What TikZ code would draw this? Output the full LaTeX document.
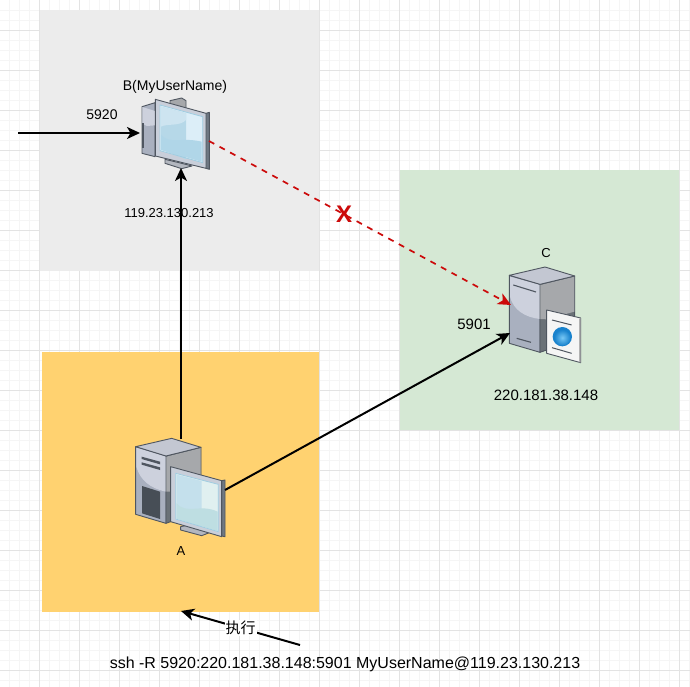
\documentclass[tikz,border=0pt]{standalone}
\usepackage{fontspec}
\setmainfont{Liberation Sans}
\newfontfamily\cjkfont{Noto Sans CJK SC}
\usetikzlibrary{arrows.meta}
\newcommand{\fs}[1]{\fontsize{#1}{#1}\selectfont}
\definecolor{edgeC}{HTML}{4F5660}
\definecolor{leftL}{HTML}{CDD1DD}
\definecolor{leftD}{HTML}{A9B0BF}
\definecolor{rightL}{HTML}{A6A8AB}
\definecolor{rightD}{HTML}{6A7177}
\definecolor{topC}{HTML}{C3C7D2}
\definecolor{frameC}{HTML}{C9CFDA}
\definecolor{stripC}{HTML}{6E7883}
\definecolor{redC}{HTML}{CC0A0A}
\tikzset{
  zone/.style={draw=none},
  lbl/.style={inner sep=0pt,text=black},
  conn/.style={draw=black,line width=2pt,-{Stealth[length=13pt,width=12pt,inset=3.5pt]}},
  redconn/.style={draw=redC,line width=1.7pt,dash pattern=on 6pt off 6pt,-{Stealth[length=13pt,width=12pt,inset=3.5pt,fill=redC]}},
  icon/.style={inner sep=0pt,draw=none,fill=none},
  wire/.style={edgeC,line width=0.9pt,line join=round},
}
\begin{document}
\begin{tikzpicture}[x=1pt,y=-1pt]
\useasboundingbox (0,0) rectangle (690,687);
\fill[white] (0,0) rectangle (690,687);
% grid
\foreach \i in {0,...,68} {\draw[color=black!4,line width=0.7pt] ({9.5+10*\i},0) -- ({9.5+10*\i},687);}
\foreach \i in {0,...,68} {\draw[color=black!4,line width=0.7pt] (0,{10.5+10*\i}) -- (690,{10.5+10*\i});}
\foreach \i in {0,...,17} {\draw[color=black!11,line width=0.7pt] ({39.5+40*\i},0) -- ({39.5+40*\i},687);}
\foreach \i in {0,...,16} {\draw[color=black!11,line width=0.7pt] (0,{30.5+40*\i}) -- (690,{30.5+40*\i});}
% zones
\fill[zone,fill={rgb,255:red,236;green,236;blue,236}] (40,10) rectangle (319,271);
\fill[zone,fill={rgb,255:red,255;green,210;blue,112}] (42,352) rectangle (319,612);
\fill[zone,fill={rgb,255:red,213;green,232;blue,212}] (400,170) rectangle (679,430);
% icon B
\begin{scope}[shift={(100,60)},scale=1/3]
 \filldraw[wire,fill=leftD] (126,140) -- (165,128) -- (165,290) -- (126,280) -- cycle;
 \fill[leftL] (127,141) -- (165,153) -- (165,196) -- (140,198) -- (127,190) -- cycle;
 \fill[edgeC] (126,190) rectangle (131,265);
 \filldraw[wire,fill=rightL] (210,122) -- (245,114) -- (258,122) -- (258,145) -- (210,135) -- cycle;
 \filldraw[wire,fill=frameC!70!gray] (195,298) -- (245,310) -- (276,318) -- (245,326) -- (195,310) -- cycle;
 \filldraw[wire,fill=stripC] (318,160) -- (328,157) -- (328,328) -- (318,325) -- cycle;
 \filldraw[wire,fill=frameC] (166,118) -- (318,160) -- (318,325) -- (166,288) -- cycle;
 \fill[color={rgb,255:red,220;green,238;blue,248}] (180,135) -- (308,170) -- (308,308) -- (180,272) -- cycle;
 \fill[color={rgb,255:red,182;green,216;blue,232}] (183,140) -- (258,160) -- (258,298) -- (183,268) -- cycle;
 \fill[color={rgb,255:red,205;green,228;blue,240}] (183,140) -- (258,160) -- (258,180) .. controls (240,200) and (200,190) .. (183,200) -- cycle;
 \fill[color={rgb,255:red,176;green,214;blue,232}] (183,225) .. controls (215,255) and (240,230) .. (305,245) -- (305,305) -- (183,270) -- cycle;
 \draw[color={rgb,255:red,160;green,205;blue,225},line width=0.8pt] (180,135) -- (308,170) -- (308,308) -- (180,272) -- cycle;
\end{scope}
% icon C
\begin{scope}[shift={(480,240)},scale=1/3]
 \filldraw[wire,fill=leftD] (88,106) -- (180,133) -- (180,337) -- (88,310) -- cycle;
 \fill[leftL] (90,110) -- (180,135) -- (180,237) .. controls (135,232) and (100,210) .. (90,170) -- cycle;
 \filldraw[wire,fill=rightD] (180,133) -- (284,108) -- (284,228) -- (200,330) -- (180,337) -- cycle;
 \fill[rightL] (181,135) -- (283,110) -- (283,215) -- (200,238) -- (181,237) -- cycle;
 \filldraw[wire,fill=topC] (88,106) -- (195,81) -- (284,108) -- (180,133) -- cycle;
 \draw[edgeC,line width=1.1pt] (100,135) -- (168,156);
 \draw[edgeC,line width=1.1pt] (110,295) -- (153,307);
 \filldraw[wire,fill=white!92!gray] (200,210) -- (302,234) -- (302,368) -- (200,340) -- cycle;
 \fill[color=gray!60] (297,236) -- (302,234) -- (302,368) -- (297,366) -- cycle;
 \draw[edgeC,line width=1pt] (216,240) -- (275,255);
 \draw[edgeC,line width=1pt] (216,323) -- (275,340);
 \fill[color={rgb,255:red,25;green,130;blue,205}] (247,290) circle (29);
 \shade[inner color={rgb,255:red,120;green,200;blue,245},outer color={rgb,255:red,25;green,130;blue,205}] (247,293) circle (24);
\end{scope}
% icon A
\begin{scope}[shift={(120,420)},scale=1/3]
 \filldraw[wire,fill=leftD] (47,80) -- (138,108) -- (138,310) -- (47,283) -- cycle;
 \fill[leftL] (49,83) -- (138,110) -- (138,215) .. controls (90,205) and (60,180) .. (49,140) -- cycle;
 \filldraw[wire,fill=rightD] (138,108) -- (243,82) -- (243,180) -- (152,305) -- (138,310) -- cycle;
 \fill[rightL] (139,110) -- (242,84) -- (242,180) -- (152,215) -- (139,215) -- cycle;
 \filldraw[wire,fill=topC] (47,80) -- (155,55) -- (243,82) -- (138,108) -- cycle;
 \fill[edgeC] (65,110) -- (120,125) -- (120,133) -- (65,117) -- cycle;
 \fill[edgeC] (65,127) -- (120,142) -- (120,150) -- (65,134) -- cycle;
 \fill[edgeC!90!black] (66,198) -- (120,215) -- (120,297) -- (66,280) -- cycle;
 \filldraw[wire,fill=frameC!70!gray] (182,320) -- (205,315) -- (268,338) -- (245,347) -- (182,330) -- cycle;
 \filldraw[wire,fill=stripC] (305,182) -- (315,180) -- (315,350) -- (305,348) -- cycle;
 \filldraw[wire,fill=frameC] (152,140) -- (305,182) -- (305,350) -- (152,305) -- cycle;
 \fill[color={rgb,255:red,224;green,240;blue,240}] (167,160) -- (295,193) -- (295,335) -- (167,297) -- cycle;
 \fill[color={rgb,255:red,196;green,224;blue,236}] (170,164) -- (245,183) -- (245,320) -- (170,295) -- cycle;
 \fill[color={rgb,255:red,190;green,222;blue,226}] (170,250) .. controls (200,285) and (240,250) .. (293,275) -- (293,333) -- (170,296) -- cycle;
 \draw[color={rgb,255:red,160;green,205;blue,225},line width=0.8pt] (167,160) -- (295,193) -- (295,335) -- (167,297) -- cycle;
\end{scope}
% anchors
\node[icon,minimum width=68pt,minimum height=72pt] (B) at (176,130) {};
\node[icon,minimum width=72pt,minimum height=96pt] (C) at (546,315) {};
\node[icon,minimum width=90pt,minimum height=100pt] (A) at (181,488) {};
\coordinate (Bwest) at (140,133);
\coordinate (Bsouth) at (181,168);
\coordinate (Beast) at (209,141);
\coordinate (Cnw) at (511,305);
\coordinate (Cw) at (510,333);
\coordinate (Anorth) at (181,439);
\coordinate (Aeast) at (225,490);
\coordinate (inB) at (18,133);
\coordinate (exeStart) at (300,645);
\coordinate (exeEnd) at (181,611);
% connectors
\draw[conn] (inB) -- (Bwest);
\draw[conn] (Anorth) -- (Bsouth);
\draw[conn] (Aeast) -- (Cw);
\draw[redconn] (Beast) -- (Cnw);
\draw[conn] (exeStart) -- node[pos=0.5,fill=white,inner sep=1pt,font=\cjkfont\fs{15}] (exec) {执行} (exeEnd);
% labels
\node[lbl,font=\fs{14}] (lb5920) at (102,115) {5920};
\node[lbl,font=\fs{14}] (lbB) at (175,87) {B(MyUserName)};
\node[lbl,font=\fs{13}] (ipB) at (169,213) {119.23.130.213};
\node[lbl,font=\bfseries\fs{24},text=redC] (cross) at (344,214) {X};
\node[lbl,font=\fs{13}] (lbC) at (546,253) {C};
\node[lbl,font=\fs{15}] (lb5901) at (474,324) {5901};
\node[lbl,font=\fs{15}] (ipC) at (546,395) {220.181.38.148};
\node[lbl,font=\fs{13}] (lbA) at (181,551) {A};
\node[lbl,font=\fs{16}] (cmd) at (345,664) {ssh -R 5920:220.181.38.148:5901 MyUserName@119.23.130.213};
\end{tikzpicture}
\end{document}
